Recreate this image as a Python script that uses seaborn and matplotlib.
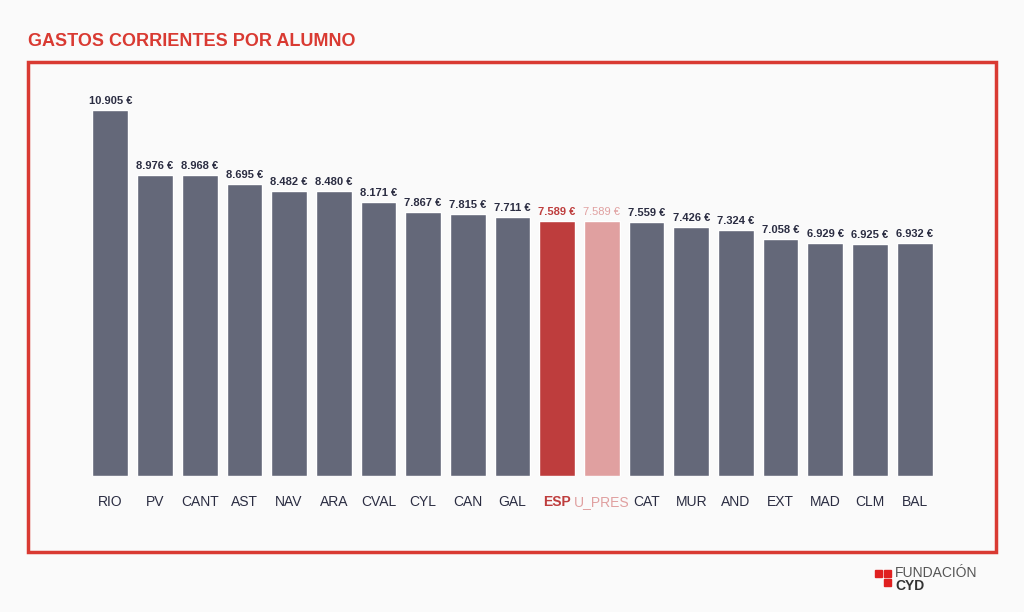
import matplotlib.pyplot as plt
import matplotlib.patches as mpatches
import seaborn as sns
import pandas as pd

regions = ["RIO", "PV", "CANT", "AST", "NAV", "ARA", "CVAL", "CYL", "CAN", "GAL",
           "ESP", "U_PRES", "CAT", "MUR", "AND", "EXT", "MAD", "CLM", "BAL"]
gastos = [10905, 8976, 8968, 8695, 8482, 8480, 8171, 7867, 7815, 7711,
          7589, 7589, 7559, 7426, 7324, 7058, 6929, 6925, 6932]

GREY = "#646879"
RED = "#BE3D3D"
PINK = "#E0A0A0"
DARK = "#2B2D42"

df = pd.DataFrame({"region": regions, "gasto": gastos})
colors = [RED if r == "ESP" else PINK if r == "U_PRES" else GREY for r in regions]

sns.set_style("white")
plt.rcParams["font.family"] = ["Liberation Sans", "DejaVu Sans"]

fig = plt.figure(figsize=(10.24, 6.12), dpi=100)
fig.patch.set_facecolor("#FAFAFA")
ax = fig.add_axes([88 / 1024, 136 / 612, 849 / 1024, 386 / 612])
ax.set_facecolor("none")
sns.barplot(data=df, x="region", y="gasto", hue="region", palette=colors,
            legend=False, width=0.8, saturation=1, ax=ax)
ax.set_xlim(-0.5, len(regions) - 0.5)
ax.set_ylim(0, 11501)
ax.set_yticks([])
ax.set_xlabel("")
ax.set_ylabel("")
sns.despine(ax=ax, left=True, bottom=True)
ax.tick_params(axis="x", length=0, pad=14)
ax.set_xticks(range(len(regions)))
ax.set_xticklabels(regions, fontsize=10)
for lbl, r in zip(ax.get_xticklabels(), regions):
    lbl.set_color(RED if r == "ESP" else PINK if r == "U_PRES" else DARK)
    if r == "ESP":
        lbl.set_fontweight("bold")

for i, (r, v) in enumerate(zip(regions, gastos)):
    c = RED if r == "ESP" else PINK if r == "U_PRES" else DARK
    ax.text(i, v + 120, f"{v:,}".replace(",", ".") + " €", ha="center", va="bottom",
            fontsize=8, color=c, fontweight="bold" if r != "U_PRES" else "normal")

fig.text(28 / 1024, 1 - 42 / 612, "GASTOS CORRIENTES POR ALUMNO", color="#D93A32",
         fontsize=13, fontweight="bold", va="center")
fig.patches.append(mpatches.Rectangle((28 / 1024, 1 - 552 / 612), 968 / 1024, 490 / 612,
                                      transform=fig.transFigure, fill=False,
                                      edgecolor="#D93A32", linewidth=2.5))
# logo
for (x, y) in [(875, 570), (884, 570), (884, 579)]:
    fig.patches.append(mpatches.Rectangle((x / 1024, 1 - (y + 7) / 612), 7 / 1024, 7 / 612,
                                          transform=fig.transFigure, color="#E02020"))
fig.text(895 / 1024, 1 - 573 / 612, "FUNDACIÓN", color="#555555", fontsize=10, va="center")
fig.text(895 / 1024, 1 - 586 / 612, "CYD", color="#333333", fontsize=10,
         fontweight="bold", va="center")

fig.savefig("out.png", dpi=100, facecolor=fig.get_facecolor())
